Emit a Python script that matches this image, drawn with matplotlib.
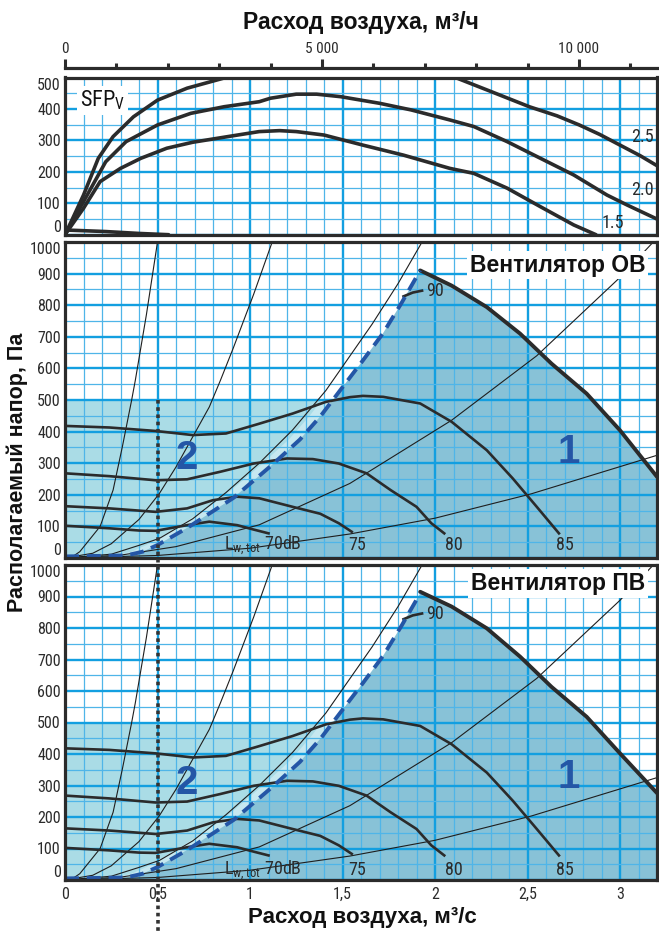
import matplotlib
matplotlib.use("Agg")
import matplotlib.pyplot as plt
import numpy as np
from matplotlib.lines import Line2D
from matplotlib.patches import Rectangle
from matplotlib.ticker import MultipleLocator

# condensed face for numbers if present, bold grotesque for the headings
NUM = ["Roboto Condensed", "Liberation Sans", "DejaVu Sans"]
BOLD = ["Liberation Sans", "DejaVu Sans"]
plt.rcParams["font.family"] = NUM

# ================= data: air flow q [m3/s], pressure p [Pa] =================
# --- SFPv panel ---
sfp25_rise_q = [0, 0.04, 0.10, 0.18, 0.26, 0.37, 0.50, 0.66, 0.87]
sfp25_rise_p = [0, 50, 126, 243, 312, 375, 428, 466, 500]
sfp25_fall_q = [2.11, 2.30, 2.51, 2.66, 2.78, 2.89, 3.00, 3.11, 3.21]
sfp25_fall_p = [500, 456, 407, 378, 349, 319, 285, 251, 216]
sfp20_q = [0, 0.10, 0.22, 0.33, 0.50, 0.68, 0.86, 1.05, 1.11, 1.25, 1.36, 1.49,
           1.70, 1.87, 2.08, 2.21, 2.39, 2.57, 2.75, 2.93, 3.04, 3.21]
sfp20_p = [0, 105, 232, 296, 349, 386, 407, 423, 434, 447, 447, 439,
           418, 397, 365, 344, 296, 243, 190, 126, 94, 47]
sfp15_q = [0, 0.10, 0.19, 0.30, 0.41, 0.55, 0.69, 0.88, 1.05, 1.16, 1.25, 1.40,
           1.61, 1.83, 2.08, 2.21, 2.39, 2.57, 2.75, 2.87]
sfp15_p = [0, 84, 169, 211, 243, 275, 294, 312, 328, 331, 328, 317,
           285, 253, 211, 195, 148, 89, 31, 0]
sfp_low_q = [0, 0.22, 0.40, 0.56]
sfp_low_p = [15, 10, 4, 0]
sfp_labels = ["2.5", "2.0", "1.5"]
sfp_label_q = [3.18, 3.18, 3.02]
sfp_label_p = [312, 142, 36]

# --- fan panels: system curves (thin) ---
sys_a_q = [0.03, 0.08, 0.19, 0.26, 0.31, 0.36, 0.38, 0.44, 0.50]
sys_a_p = [0, 20, 100, 215, 352, 499, 562, 770, 1000]
sys_b_q = [0, 0.15, 0.25, 0.40, 0.51, 0.60, 0.69, 0.78, 0.84, 0.91, 1.02, 1.12]
sys_b_p = [0, 15, 45, 122, 204, 288, 383, 478, 562, 665, 835, 1000]
sys_c_q = [0, 0.25, 0.40, 0.51, 0.69, 0.87, 1.05, 1.23, 1.41, 1.66, 1.80, 1.93]
sys_c_p = [0, 12, 40, 62, 124, 207, 300, 405, 530, 740, 868, 1000]
sys_d_q = [0, 0.30, 0.60, 1.05, 1.54, 2.09, 2.55, 3.00, 3.18]
sys_d_p = [0, 9, 36, 105, 236, 436, 640, 888, 1000]
sys_e_q = [0, 0.50, 1.00, 1.54, 2.00, 2.52, 3.20]
sys_e_p = [0, 8, 31, 76, 126, 203, 325]

# --- sound power curves Lw,tot ---
lw70_q = [0, 0.24, 0.40, 0.49, 0.66, 0.78, 0.93, 1.02, 1.10]
lw70_p = [102, 94, 87, 86, 104, 115, 104, 90, 78]
lw75_q = [0, 0.24, 0.49, 0.66, 0.80, 0.93, 1.05, 1.23, 1.38, 1.48, 1.55]
lw75_p = [164, 157, 146, 157, 183, 194, 189, 162, 140, 110, 83]
lw80_q = [0, 0.24, 0.49, 0.66, 0.84, 1.02, 1.20, 1.34, 1.48, 1.63, 1.76, 1.90, 1.98, 2.05]
lw80_p = [268, 259, 246, 249, 273, 299, 315, 313, 299, 268, 215, 162, 110, 78]
lw85_q = [0, 0.24, 0.49, 0.69, 0.87, 1.05, 1.23, 1.41, 1.54, 1.61, 1.72, 1.92,
          2.09, 2.28, 2.42, 2.55, 2.64, 2.67]
lw85_p = [418, 413, 402, 389, 394, 425, 457, 494, 509, 513, 510, 489,
          431, 341, 252, 162, 99, 78]
lw90_q = [1.83, 1.88, 1.93]
lw90_p = [828, 840, 846]
lw_labels = [r"L$_{\mathregular{w,tot}}$ 70dB", "75", "80", "85"]
lw_label_q = [0.86, 1.58, 2.10, 2.70]

# --- working range: lower limit (dashed) and max curve ---
limit_q = [0, 0.33, 0.42, 0.50, 0.66, 0.91, 1.12, 1.27, 1.38, 1.48, 1.61, 1.72, 1.82, 1.92]
limit_p = [5, 8, 20, 41, 95, 190, 295, 375, 448, 525, 625, 712, 808, 910]
max_q = [1.92, 2.09, 2.28, 2.46, 2.63, 2.82, 3.00, 3.20]
max_ov_p = [910, 862, 794, 710, 615, 520, 404, 257]
max_pv_p = [915, 868, 799, 709, 613, 518, 402, 276]
zone2_top = 500
marker_q = 0.5

x_ticks = [0, 0.5, 1, 1.5, 2, 2.5, 3]
x_tick_labels = ["0", "0,5", "1", "1,5", "2", "2,5", "3"]
top_ticks = [0, 5000, 10000]
top_tick_labels = ["0", "5 000", "10 000"]

# ================= styling =================
INK = "#2b2b2b"
BLUE = "#2456a6"
GRID_MAJ = "#139fe0"
GRID_MIN = "#4fb5e8"
LIGHT = "#aadce6"
PALE = "#c6e8f0"
DARK = "#88c2d7"
QMAX = 3.2

FIG_W, FIG_H = 659, 933
fig = plt.figure(figsize=(FIG_W / 100, FIG_H / 100), dpi=100)


def box(top_px, bot_px, left_px=65, right_px=657):
    return [left_px / FIG_W, 1 - bot_px / FIG_H,
            (right_px - left_px) / FIG_W, (bot_px - top_px) / FIG_H]


def style_panel(ax, ymax):
    ax.set_xlim(0, QMAX)
    ax.set_ylim(0, ymax)
    ax.xaxis.set_major_locator(MultipleLocator(0.5))
    ax.xaxis.set_minor_locator(MultipleLocator(0.1))
    ax.set_yticks(range(0, ymax + 1, 100))
    ax.yaxis.set_minor_locator(MultipleLocator(50))
    ax.set_axisbelow(True)
    ax.grid(which="major", color=GRID_MAJ, lw=1.7)
    ax.grid(which="minor", color=GRID_MIN, lw=0.9)
    ax.tick_params(which="both", length=0, labelsize=11.5, colors=INK)
    ax.tick_params(axis="y", pad=3)
    ax.tick_params(axis="x", labelbottom=False)
    for s in ax.spines.values():
        s.set_linewidth(2.3)
        s.set_color(INK)
        s.set_zorder(6)
    labels = ax.get_yticklabels()
    labels[0].set_va("bottom")
    labels[-1].set_va("top")


# ---------- ruler in m3/h ----------
ax_r = fig.add_axes([65 / FIG_W, 1 - 68 / FIG_H, 592 / FIG_W, 1e-4])
ax_r.set_xlim(0, QMAX * 3600)
ax_r.set_ylim(0, 1)
ax_r.patch.set_visible(False)
for s in ["left", "right", "bottom"]:
    ax_r.spines[s].set_visible(False)
ax_r.spines["top"].set_linewidth(2.3)
ax_r.spines["top"].set_color(INK)
ax_r.set_yticks([])
ax_r.xaxis.tick_top()
ax_r.set_xticks(top_ticks, labels=top_tick_labels)
ax_r.set_xticks(np.arange(0, 12000, 1000), minor=True)
ax_r.tick_params(axis="x", which="major", direction="out", length=6.5, width=2.2,
                 pad=2, labelsize=11, color=INK, labelcolor=INK)
ax_r.tick_params(axis="x", which="minor", direction="out", length=3.5, width=2.2, color=INK)

# ---------- SFPv panel ----------
ax_sfp = fig.add_axes(box(77.5, 234.7))
style_panel(ax_sfp, 500)
for q, p in [(sfp25_rise_q, sfp25_rise_p), (sfp25_fall_q, sfp25_fall_p),
             (sfp20_q, sfp20_p), (sfp15_q, sfp15_p), (sfp_low_q, sfp_low_p)]:
    ax_sfp.plot(q, p, color=INK, lw=2.6, solid_capstyle="round", zorder=3)
for t, q, p in zip(sfp_labels, sfp_label_q, sfp_label_p):
    ax_sfp.text(q, p, t, fontsize=13, color=INK, ha="right", va="center", zorder=4)
ax_sfp.text(0.025, 0.855, r"SFP$_{\mathregular{V}}$", transform=ax_sfp.transAxes,
            fontsize=16, color="#111111", ha="left", va="center", zorder=4,
            bbox=dict(boxstyle="square,pad=0.12", fc="white", ec="none"))


# ---------- fan panels ----------
def fan_panel(ax, max_p, title, title_y, lab_p, n1, n2):
    style_panel(ax, 1000)
    q_cut = np.interp(zone2_top, limit_p, limit_q)
    ax.fill_between([0, q_cut], 0, zone2_top, color=LIGHT, lw=0, zorder=0.1)
    # pale band along the upper side of the dashed limit, inside zone 2
    band = ax.fill(np.concatenate([limit_q, np.array(limit_q[::-1]) - 0.06]),
                   np.concatenate([limit_p, limit_p[::-1]]),
                   color=PALE, lw=0, zorder=0.15)[0]
    band.set_clip_path(Rectangle((0, 0), q_cut, zone2_top, transform=ax.transData))
    poly_q = np.concatenate([limit_q, max_q, [QMAX, 0]])
    poly_p = np.concatenate([limit_p, max_p, [0, 0]])
    ax.fill(poly_q, poly_p, color=DARK, lw=0, zorder=0.2)

    for q, p in [(sys_a_q, sys_a_p), (sys_b_q, sys_b_p), (sys_c_q, sys_c_p),
                 (sys_d_q, sys_d_p), (sys_e_q, sys_e_p)]:
        ax.plot(q, p, color="#1e1e1e", lw=0.8, zorder=2)
    for q, p in [(lw70_q, lw70_p), (lw75_q, lw75_p), (lw80_q, lw80_p),
                 (lw85_q, lw85_p), (lw90_q, lw90_p)]:
        ax.plot(q, p, color=INK, lw=1.9, zorder=2.5)
    ax.plot(max_q, max_p, color=INK, lw=2.8, solid_capstyle="round", zorder=3)
    ax.plot(limit_q, limit_p, color=BLUE, lw=2.8, ls=(0, (3.6, 2.0)),
            dash_capstyle="butt", zorder=3.5)

    for i, (t, q) in enumerate(zip(lw_labels, lw_label_q)):
        ax.text(q, lab_p, t, fontsize=13, color=INK, ha="left" if i == 0 else "center",
                va="center", zorder=4)
    ax.text(1.95, lw90_p[-1], "90", fontsize=13, color=INK, ha="left", va="center", zorder=4)

    ax.text(n2[0], n2[1], "2", fontsize=29, fontweight="bold", family=BOLD,
            color=BLUE, ha="center", va="center", zorder=4)
    ax.text(n1[0], n1[1], "1", fontsize=29, fontweight="bold", family=BOLD,
            color=BLUE, ha="center", va="center", zorder=4)
    ax.text(0.98, title_y, title, transform=ax.transAxes, fontsize=16.5, fontweight="bold",
            family=BOLD, color="#111111", ha="right", va="center", zorder=5,
            bbox=dict(boxstyle="square,pad=0.12", fc="white", ec="none"))


ax_ov = fig.add_axes(box(242, 558))
fan_panel(ax_ov, max_ov_p, "Вентилятор ОВ", 0.927, 41, (2.72, 336), (0.66, 315))

ax_pv = fig.add_axes(box(565, 880))
fan_panel(ax_pv, max_pv_p, "Вентилятор ПВ", 0.941, 32, (2.72, 328), (0.66, 307))
ax_pv.set_xticks(x_ticks, labels=x_tick_labels)
ax_pv.tick_params(axis="x", labelbottom=True, pad=5)

# dotted marker at q = 0.5 running from zone 2 down to the bottom edge
to_fig = fig.transFigure.inverted()
x0, y0 = to_fig.transform(ax_ov.transData.transform((marker_q, zone2_top)))
fig.add_artist(Line2D([x0, x0], [y0, 0.0], transform=fig.transFigure, color="#333333",
                      lw=2.6, ls=(0, (1, 1)), zorder=10))

# ---------- axis titles ----------
fig.text(361 / FIG_W, 1 - 22 / FIG_H, "Расход воздуха, м³/ч", ha="center", va="center",
         fontsize=16.5, fontweight="bold", family=BOLD, color="#111111")
fig.text(362 / FIG_W, 1 - 918 / FIG_H, "Расход воздуха, м³/с", ha="center", va="center",
         fontsize=16, fontweight="bold", family=BOLD, color="#111111")
fig.text(17 / FIG_W, 1 - 472 / FIG_H, "Располагаемый напор, Па", ha="center", va="center",
         rotation=90, fontsize=15.5, fontweight="bold", family=BOLD, color="#111111")

fig.savefig("out.png", dpi=100)
